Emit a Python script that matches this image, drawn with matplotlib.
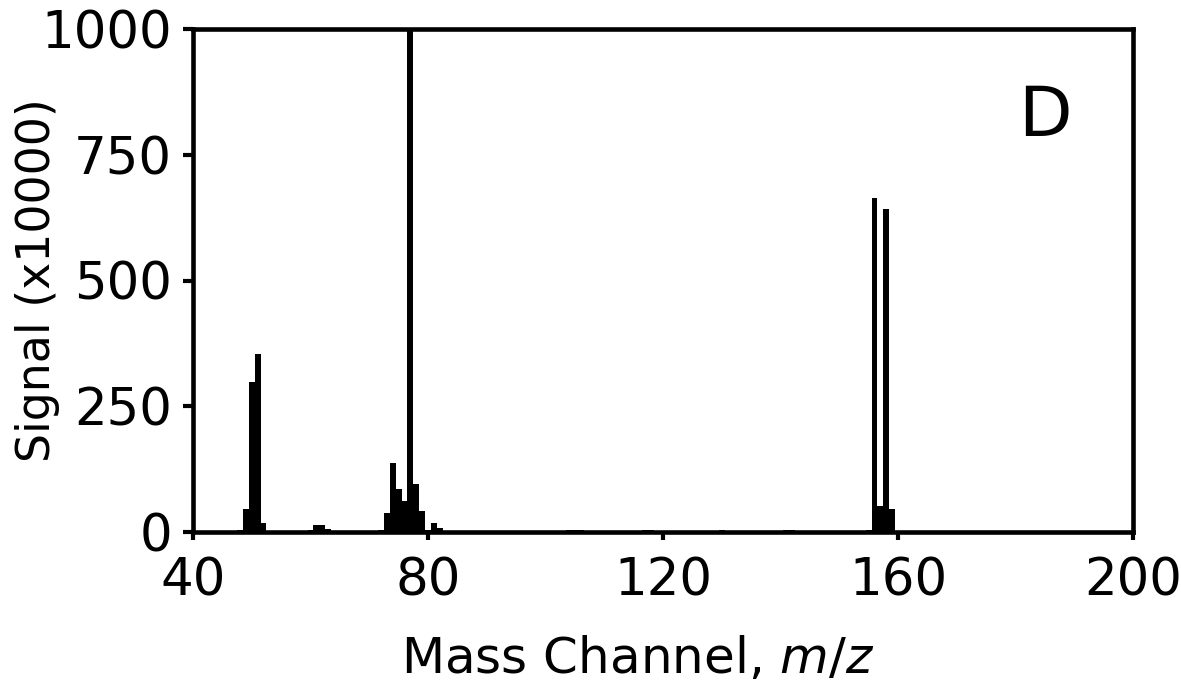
import matplotlib
matplotlib.use("Agg")
import matplotlib.pyplot as plt

# m/z channels and signal (x10000)
mz = [47, 48, 49, 50, 51, 52, 53,
      60, 61, 62, 63, 64,
      72, 73, 74, 75, 76, 77, 78, 79, 80, 81, 82, 83,
      104, 105, 106, 117, 118, 129, 130, 131, 141, 142,
      155, 156, 157, 158, 159, 160]
signal = [1, 4, 45, 298, 354, 18, 2,
          4, 13, 13, 5, 1,
          4, 38, 137, 85, 62, 1000, 95, 42, 3, 18, 7, 2,
          3, 3, 3, 3, 3, 2, 3, 2, 3, 3,
          3, 665, 52, 643, 45, 2]

xticks = [40, 80, 120, 160, 200]
yticks = [0, 250, 500, 750, 1000]

plt.rcParams['font.family'] = ['DejaVu Sans']

fig = plt.figure(figsize=(11.81, 7.0), dpi=100)
ax = fig.add_axes([193/1181, 1-532/700, (1133-193)/1181, (532-29)/700])

ax.bar(mz, signal, width=1.0, color='black', linewidth=0)

ax.set_xlim(40, 200)
ax.set_ylim(0, 1000)
ax.set_xticks(xticks)
ax.set_yticks(yticks)
ax.set_xticklabels([str(v) for v in xticks])
ax.set_yticklabels([str(v) for v in yticks])

for s in ax.spines.values():
    s.set_linewidth(3.3)
    s.set_color('black')

ax.tick_params(axis='x', direction='out', length=6, width=3, labelsize=37, pad=12)
ax.tick_params(axis='y', direction='out', length=7, width=3, labelsize=37, pad=8)

ax.set_ylabel('Signal (x10000)', fontsize=33)
ax.yaxis.set_label_coords(-0.142, 0.5)
ax.set_xlabel('Mass Channel, $\\mathit{m/z}$', fontsize=36)
ax.xaxis.set_label_coords(0.473, -0.205)

ax.text(185, 827, 'D', fontsize=50, ha='center', va='center')

fig.savefig('out.png', dpi=100)
